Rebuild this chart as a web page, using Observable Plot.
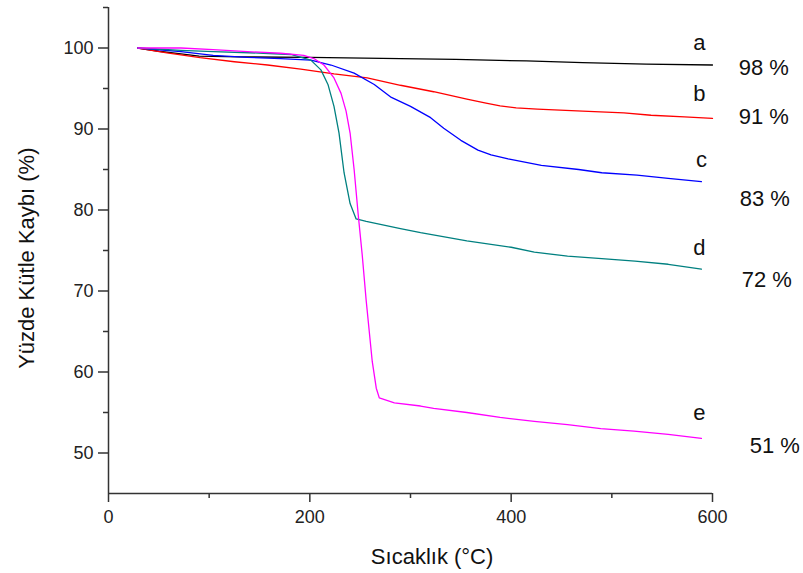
<!DOCTYPE html>
<html><head><meta charset="utf-8">
<script src="https://cdn.jsdelivr.net/npm/d3@7"></script>
<script src="https://cdn.jsdelivr.net/npm/@observablehq/plot@0.6"></script>
<style>body{margin:0;background:#fff;} svg{display:block}</style>
</head><body><div id="chart"></div>
<script>
// Series (temperature °C, mass %)
const seriesNames = ["a", "b", "c", "d", "e"];
const seriesColors = ["#000000", "#ff0000", "#0000ff", "#008080", "#ff00ff"];
const curveA = [[29,100],[50,99.6],[70,99.3],[90,99.0],[130,98.9],[200,98.85],[290,98.7],[345,98.6],[415,98.4],[471,98.2],[534,98.0],[600,97.9]];
const curveB = [[29,100],[58,99.4],[91,98.8],[125,98.3],[158,97.9],[191,97.4],[224,96.8],[257,96.3],[290,95.4],[323,94.6],[356,93.7],[375,93.2],[389,92.85],[405,92.6],[426,92.45],[471,92.2],[512,92.0],[539,91.7],[572,91.5],[600,91.3]];
const curveC = [[29,100],[72,99.55],[104,99.1],[138,98.85],[171,98.7],[201,98.5],[221,97.9],[244,96.9],[264,95.5],[281,93.9],[300,92.8],[320,91.4],[333,90.1],[350,88.6],[367,87.4],[380,86.8],[397,86.3],[430,85.5],[467,85.0],[490,84.6],[525,84.3],[556,83.9],[589,83.5]];
const curveD = [[29,100],[72,99.7],[104,99.55],[154,99.35],[181,99.2],[201,98.5],[211,97.3],[218,95.5],[224,92.8],[229,89.5],[234,84.6],[240,80.8],[246,78.9],[256,78.6],[290,77.7],[310,77.2],[356,76.2],[400,75.4],[423,74.8],[456,74.3],[490,74.0],[523,73.7],[556,73.3],[589,72.7]];
const curveE = [[29,100],[72,100],[104,99.8],[138,99.55],[171,99.35],[194,99.1],[204,98.7],[214,97.9],[224,96.3],[231,94.4],[236,92.2],[240,89.5],[244,85.0],[248,79.5],[252,74.5],[256,68.8],[262,61.3],[266,58.0],[269,56.8],[284,56.2],[310,55.8],[323,55.5],[356,55.0],[389,54.4],[423,53.9],[456,53.5],[489,53.0],[522,52.7],[556,52.3],[589,51.8]];

// Annotations
const percentLabels = ["98 %", "91 %", "83 %", "72 %", "51 %"];
const letterT = [587, 587, 589, 587, 587];
const letterY = [100.62, 94.3, 86.12, 75.34, 54.89];
const percentT = [626, 626, 627, 629, 637];
const percentY = [97.52, 91.45, 81.41, 71.38, 50.93];

// Axes
const xMajorTicks = [0, 200, 400, 600];
const xMinorTicks = [100, 300, 500];
const yMajorTicks = [50, 60, 70, 80, 90, 100];
const yMinorTicks = [55, 65, 75, 85, 95, 105];
const xLabel = "Sıcaklık (°C)";
const yLabel = "Yüzde Kütle Kaybı (%)";

const curves = [curveA, curveB, curveC, curveD, curveE];
const rows = curves.flatMap((c, i) => c.map(([t, m]) => ({series: seriesNames[i], t, m})));
const letters = seriesNames.map((s, i) => ({s, t: letterT[i], y: letterY[i]}));
const percents = percentLabels.map((s, i) => ({s, t: percentT[i], y: percentY[i]}));

const axisColor = "#333";
const font = "'Liberation Sans', Arial, sans-serif";

const chart = Plot.plot({
  width: 803,
  height: 573,
  marginLeft: 108,
  marginRight: 91,
  marginTop: 7,
  marginBottom: 80,
  style: {fontFamily: font, fontSize: "18px", color: "#222", background: "#fff"},
  x: {domain: [0, 600]},
  y: {domain: [45, 105]},
  color: {domain: seriesNames, range: seriesColors},
  marks: [
    Plot.axisX(xMajorTicks, {tickSize: 9, tickPadding: 8, fontSize: 18, label: null, stroke: axisColor, strokeWidth: 1.5}),
    Plot.axisX(xMinorTicks, {tickSize: 5, tickFormat: () => "", label: null, stroke: axisColor, strokeWidth: 1.5}),
    Plot.axisY(yMajorTicks, {tickSize: 10, tickPadding: 5, fontSize: 18, label: null, stroke: axisColor, strokeWidth: 1.5}),
    Plot.axisY(yMinorTicks, {tickSize: 5, tickFormat: () => "", label: null, stroke: axisColor, strokeWidth: 1.5}),
    Plot.ruleX([0], {stroke: axisColor, strokeWidth: 1.5}),
    Plot.ruleY([45], {stroke: axisColor, strokeWidth: 1.5}),
    Plot.line(rows, {x: "t", y: "m", z: "series", stroke: "series", strokeWidth: 1.3}),
    Plot.text(letters, {x: "t", y: "y", text: "s", fontSize: 22, textAnchor: "middle", lineAnchor: "middle", fill: "#111"}),
    Plot.text(percents, {x: "t", y: "y", text: "s", fontSize: 22, textAnchor: "start", lineAnchor: "middle", fill: "#111"}),
    Plot.text([xLabel], {frameAnchor: "bottom", dx: 21.6, dy: 63.7, fontSize: 22, textAnchor: "middle", lineAnchor: "middle", fill: "#111"}),
    Plot.text([yLabel], {frameAnchor: "left", dx: -82, dy: 7.7, rotate: -90, fontSize: 22, textAnchor: "middle", lineAnchor: "middle", fill: "#111"})
  ]
});
document.getElementById("chart").appendChild(chart);
</script>
</body></html>
